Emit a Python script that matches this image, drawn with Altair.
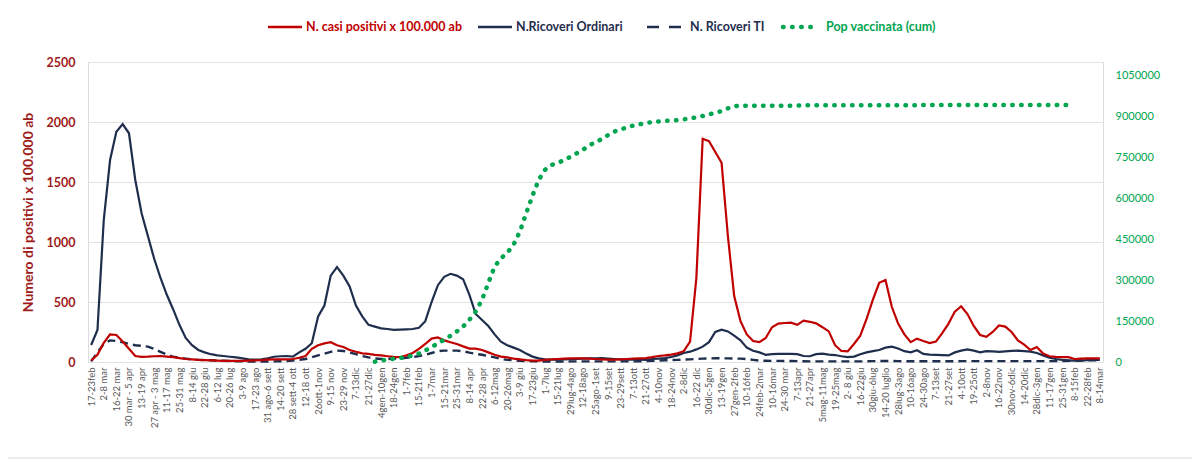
import altair as alt
import pandas as pd

week_labels = [
    "17-23feb", "2-8 mar", "16-22 mar", "30 mar - 5 apr", "13-19 apr", "27 apr - 3 mag", "11-17 mag", "25-31 mag",
    "8-14 giu", "22-28 giu", "6-12 lug", "20-26 lug", "3-9 ago", "17-23 ago", "31 ago-6 sett", "14-20 sett",
    "28 sett-4 ott", "12-18 ott", "26ott-1nov", "9-15 nov", "23-29 nov", "7-13dic", "21-27dic", "4gen-10gen",
    "18-24gen", "1-7feb", "15-21feb", "1-7mar", "15-21mar", "25-31mar", "8-14 apr", "22-28 apr",
    "6-12mag", "20-26mag", "3-9 giu", "17-23giu", "1-7lug", "15-21lug", "29lug-4ago", "12-18ago",
    "25ago-1set", "9-15set", "23-29sett", "7-13ott", "21-27ott", "4-10nov", "18-24nov", "2-8dic",
    "16-22 dic", "30dic-5gen", "13-19gen", "27gen-2feb", "10-16feb", "24feb-2mar", "10-16mar", "24-30 mar",
    "7-13apr", "21-27apr", "5mag-11mag", "19-25mag", "2- 8 giu", "16-22giu", "30giu-6lug", "14-20 luglio",
    "28lug-3ago", "10-16ago", "24-30ago", "7-13set", "21-27set", "4-10ott", "19-25ott", "2-8nov",
    "16-22nov", "30nov-6dic", "14-20dic", "28dic-3gen", "11-17gen", "25-31gen", "8-15feb", "22-28feb",
    "8-14mar",
]

casi = [
    12, 60, 160, 230, 225, 170, 110, 50, 42, 44,
    48, 50, 45, 40, 32, 25, 22, 18, 16, 14,
    12, 10, 10, 10, 10, 12, 14, 16, 20, 22,
    22, 22, 25, 35, 50, 110, 140, 155, 165, 140,
    125, 100, 85, 72, 68, 60, 55, 48, 42, 40,
    55, 75, 110, 150, 195, 205, 180, 165, 150, 130,
    112, 112, 100, 80, 60, 45, 38, 28, 22, 15,
    11, 12, 18, 22, 25, 28, 30, 30, 30, 28,
    25, 22, 20, 20, 22, 25, 28, 30, 32, 40,
    50, 55, 62, 72, 90, 170, 700, 1860, 1840, 1750,
    1660, 1050, 550, 340, 230, 175, 165, 200, 290, 320,
    325, 328, 310, 345, 335, 322, 290, 255, 140, 92,
    88, 150, 220, 360, 520, 660, 683, 460, 320, 230,
    165, 195, 175, 158, 170, 240, 320, 420, 465, 400,
    300, 225, 210, 250, 305, 295, 250, 180, 145, 100,
    125, 70, 48, 42, 40, 40, 25, 28, 30, 30,
    30,
]

ricoveri_ordinari = [
    142, 267, 1183, 1683, 1919, 1983, 1906, 1517, 1239, 1050,
    860, 700, 560, 440, 310, 200, 140, 100, 80, 65,
    55, 50, 44, 38, 30, 22, 20, 22, 30, 44,
    48, 50, 45, 80, 110, 156, 380, 470, 720, 790,
    720, 630, 470, 380, 310, 295, 280, 275, 268, 270,
    272, 275, 285, 340, 500, 640, 710, 735, 720, 690,
    560, 400, 350, 300, 230, 170, 140, 120, 100, 70,
    45, 30, 22, 20, 20, 22, 24, 26, 28, 30,
    30, 32, 28, 25, 22, 20, 20, 20, 18, 25,
    28, 32, 42, 55, 75, 86, 105, 128, 165, 250,
    270, 255, 220, 180, 120, 94, 80, 60, 65, 67,
    67, 67, 66, 50, 48, 65, 70, 62, 58, 48,
    40, 45, 65, 80, 90, 100, 120, 128, 112, 90,
    80, 98, 68, 62, 60, 58, 55, 80, 95, 105,
    95, 80, 90, 88, 85, 88, 92, 94, 90, 86,
    75, 55, 35, 25, 18, 14, 11, 12, 15, 17,
    17,
]

ricoveri_ti = [
    5, 80, 150, 180, 175, 165, 150, 140, 135, 128,
    110, 85, 62, 45, 35, 28, 22, 18, 16, 15,
    12, 10, 8, 6, 5, 4, 3, 3, 4, 5,
    6, 8, 12, 18, 25, 40, 55, 70, 85, 95,
    92, 80, 65, 50, 38, 30, 25, 25, 28, 30,
    35, 40, 50, 60, 75, 90, 95, 95, 95, 90,
    78, 68, 60, 50, 38, 25, 18, 14, 11, 8,
    6, 5, 4, 4, 4, 4, 5, 5, 5, 5,
    5, 5, 5, 5, 5, 5, 5, 6, 8, 10,
    12, 14, 16, 18, 20, 22, 25, 28, 30, 31,
    31, 30, 29, 28, 24, 18, 12, 10, 9, 9,
    8, 8, 7, 6, 5, 5, 5, 5, 5, 5,
    5, 5, 5, 6, 7, 8, 8, 8, 7, 6,
    6, 6, 6, 6, 6, 6, 6, 6, 7, 7,
    7, 7, 7, 7, 7, 7, 7, 7, 7, 7,
    7, 7, 7, 7, 8, 9, 10, 12, 14, 15,
    15,
]

pop_vaccinata = [None] * 45 + [
    1000, 5000, 9000, 12000, 15000,
    18000, 24000, 31000, 42000, 55000, 68000, 82000, 96000, 112000, 130000,
    155000, 185000, 228000, 290000, 350000, 380000, 400000, 430000, 478000, 545000,
    610000, 668000, 705000, 722000, 730000, 740000, 752000, 765000, 778000, 795000,
    805000, 818000, 832000, 845000, 853000, 860000, 867000, 872000, 876000, 880000,
    882000, 884000, 885000, 887000, 890000, 893000, 897000, 902000, 908000, 914000,
    920000, 930000, 938000, 940000, 940000, 940000, 940000, 940000, 940000, 940000,
    940000, 940000, 940000, 941000, 941000, 941000, 941000, 941000, 941000, 941000,
    941000, 941000, 941000, 941000, 941000, 941000, 941000, 941000, 941000, 941000,
    941000, 941000, 942000, 942000, 942000, 942000, 942000, 942000, 942000, 942000,
    942000, 942000, 942000, 942000, 942000, 942000, 942000, 942000, 942000, 942000,
    942000, 942000, 942000, 942000, 942000, 942000,
]

series_names = ["N. casi positivi x 100.000 ab", "N.Ricoveri Ordinari", "N. Ricoveri TI", "Pop vaccinata (cum)"]

n = len(casi)
# every other week carries a label; the weeks in between get an unshown placeholder name
week_names = [week_labels[i // 2] if i % 2 == 0 else "wk%03d" % i for i in range(n)]

df = pd.DataFrame({
    "wk": week_names,
    "casi": casi,
    "ricoveri": ricoveri_ordinari[:n],
    "ti": ricoveri_ti[:n],
    "vacc": (pop_vaccinata + [None] * n)[:n],
})

RED = "#C00000"
NAVY = "#1F2E4D"
GREEN = "#00A550"
AXRED = "#9E1B1B"
FONT = "Lato"

x_scale = alt.Scale(type="point", domain=week_names, padding=0.5)
x_axis = alt.Axis(
    values=week_labels, labelAngle=270,
    labelFontSize=9.5, labelColor="#595959", labelOverlap=False, labelFlush=False,
    ticks=False, domain=False, grid=False, labelPadding=5, title=None, labelFont=FONT,
)
x_enc = alt.X("wk:O", scale=x_scale, axis=x_axis)
left_scale = alt.Scale(domain=[0, 2500], nice=False)

left_axis = alt.Axis(
    values=[0, 500, 1000, 1500, 2000, 2500], format="d", labelColor=AXRED, labelFontWeight="bold",
    labelFontSize=12.5, labelPadding=13, domain=False, ticks=False, gridColor="#e2e2e2",
    title="Numero di positivi x 100.000 ab", titleColor=AXRED, titleFontSize=14,
    titleFontWeight="bold", titlePadding=11, labelFont=FONT, titleFont=FONT,
)

base = alt.Chart(df)

ti_line = base.mark_line(color=NAVY, strokeWidth=2.4, strokeDash=[8, 5]).encode(
    x=x_enc,
    y=alt.Y("ti:Q", scale=left_scale, axis=left_axis),
)
navy_line = base.mark_line(color=NAVY, strokeWidth=2.2).encode(
    x=x_enc,
    y=alt.Y("ricoveri:Q", scale=left_scale, axis=None),
)
red_line = base.mark_line(color=RED, strokeWidth=2.2).encode(
    x=x_enc,
    y=alt.Y("casi:Q", scale=left_scale, axis=None),
)

green_line = base.mark_line(color=GREEN, strokeWidth=4.5, strokeDash=[0.5, 8.4], strokeCap="round").encode(
    x=x_enc,
    y=alt.Y("vacc:Q", scale=alt.Scale(domain=[0, 1100000], nice=False),
            axis=alt.Axis(orient="right", values=[0, 150000, 300000, 450000, 600000, 750000, 900000, 1050000],
                          format="d", labelColor=GREEN, labelFontSize=11, labelPadding=12,
                          domain=False, ticks=False, grid=False, title=None, labelFont=FONT)),
)

one = alt.Chart(pd.DataFrame({"k": [0]}))

border = one.mark_rect(fillOpacity=0, stroke="#d6d6d6", strokeWidth=1, cornerRadius=4).encode(
    x=alt.value(-84), x2=alt.value(1106), y=alt.value(-58), y2=alt.value(396)
)

legend_y = -35
legend_items = [
    # (name, color, dash, width, x0, x1, text_x)
    (series_names[0], RED, None, 2.5, 180, 214, 218),
    (series_names[1], NAVY, None, 2.5, 390, 424, 428),
    (series_names[2], NAVY, [12, 10], 2.5, 559, 593, 602),
    (series_names[3], GREEN, [0.5, 8.6], 4.5, 695, 730, 738),
]
legend_layers = []
for name, color, dash, w, x0, x1, tx in legend_items:
    kw = dict(color=color, strokeWidth=w)
    if dash is not None:
        kw["strokeDash"] = dash
        kw["strokeCap"] = "round" if color == GREEN else "butt"
    legend_layers.append(one.mark_rule(**kw).encode(
        x=alt.value(x0), x2=alt.value(x1), y=alt.value(legend_y)))
    legend_layers.append(one.mark_text(align="left", baseline="middle", color=color, fontSize=12.5,
                                       fontWeight="bold", font=FONT).encode(
        x=alt.value(tx), y=alt.value(legend_y), text=alt.value(name)))

chart = alt.layer(ti_line, navy_line, red_line, green_line, border, *legend_layers).resolve_scale(
    y="independent"
).properties(
    width=1015, height=300,
    autosize=alt.AutoSizeParams(type="none"),
    padding={"left": 80, "top": 54, "right": 89, "bottom": 100},
).configure_view(stroke=None).configure(font=FONT)

chart.save("out.html", embed_options={"renderer": "svg", "actions": False})
